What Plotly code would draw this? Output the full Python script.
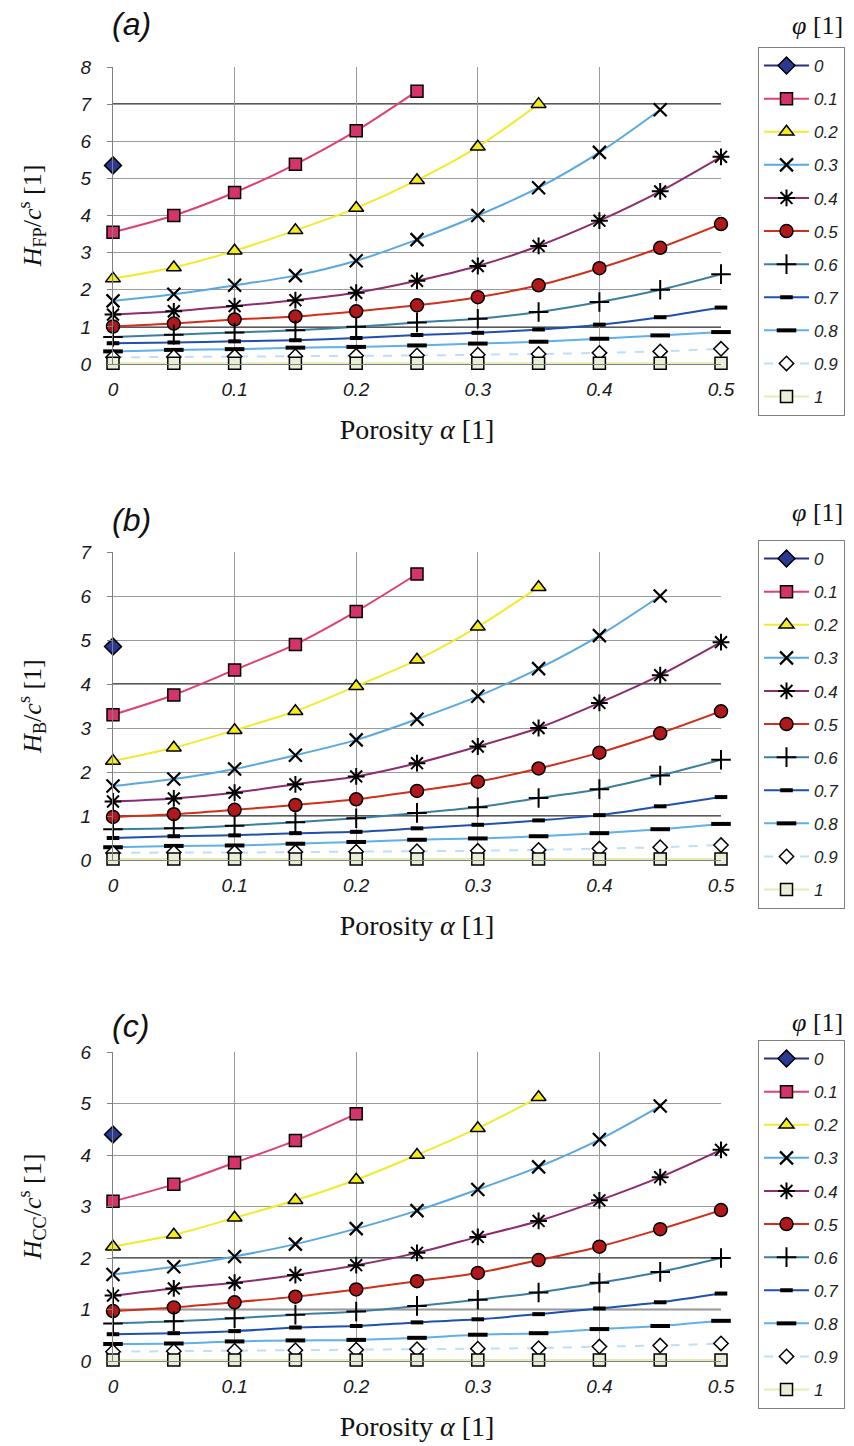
import plotly.graph_objects as go

# Porosity values on the horizontal axis
alpha = [0, 0.05, 0.1, 0.15, 0.2, 0.25, 0.3, 0.35, 0.4, 0.45, 0.5]
alpha_ticks = [0, 0.1, 0.2, 0.3, 0.4, 0.5]
alpha_ticktext = ["0", "0.1", "0.2", "0.3", "0.4", "0.5"]

# Volume fraction of the second phase (one curve each)
phi = ["0", "0.1", "0.2", "0.3", "0.4", "0.5", "0.6", "0.7", "0.8", "0.9", "1"]

# H_FP / c^s  (panel a); shorter rows stop where the curve ends
H_FP = [
    [5.35],
    [3.55, 4.0, 4.62, 5.38, 6.28, 7.35],
    [2.3, 2.6, 3.05, 3.6, 4.2, 4.95, 5.85, 7.0],
    [1.7, 1.88, 2.12, 2.38, 2.78, 3.35, 4.0, 4.75, 5.7, 6.85],
    [1.33, 1.42, 1.56, 1.72, 1.92, 2.24, 2.64, 3.18, 3.86, 4.65, 5.58],
    [1.01, 1.09, 1.2, 1.28, 1.42, 1.58, 1.8, 2.12, 2.58, 3.13, 3.77],
    [0.73, 0.79, 0.85, 0.91, 1.0, 1.12, 1.22, 1.4, 1.67, 2.0, 2.42],
    [0.56, 0.58, 0.61, 0.64, 0.7, 0.78, 0.84, 0.93, 1.06, 1.26, 1.52],
    [0.34, 0.38, 0.4, 0.44, 0.46, 0.5, 0.55, 0.6, 0.68, 0.77, 0.86],
    [0.18, 0.19, 0.2, 0.21, 0.22, 0.23, 0.25, 0.27, 0.3, 0.34, 0.41],
    [0.02, 0.02, 0.02, 0.02, 0.02, 0.02, 0.02, 0.02, 0.02, 0.02, 0.02],
]

# H_B / c^s  (panel b)
H_B = [
    [4.85],
    [3.3, 3.75, 4.32, 4.9, 5.65, 6.5],
    [2.25, 2.55, 2.95, 3.38, 3.95, 4.55, 5.3, 6.2],
    [1.68, 1.84, 2.07, 2.38, 2.73, 3.2, 3.72, 4.35, 5.1, 6.0],
    [1.33, 1.4, 1.53, 1.72, 1.9, 2.2, 2.58, 3.0, 3.57, 4.2, 4.95],
    [0.98, 1.04, 1.14, 1.25, 1.38, 1.57, 1.78, 2.08, 2.44, 2.88, 3.38],
    [0.7, 0.72, 0.78, 0.86, 0.95, 1.07, 1.2, 1.41, 1.61, 1.92, 2.28],
    [0.5, 0.54, 0.56, 0.61, 0.64, 0.72, 0.8, 0.9, 1.02, 1.22, 1.43],
    [0.29, 0.32, 0.33, 0.37, 0.41, 0.46, 0.49, 0.54, 0.61, 0.7, 0.82],
    [0.16, 0.17, 0.17, 0.18, 0.19, 0.2, 0.21, 0.23, 0.26, 0.29, 0.34],
    [0.02, 0.02, 0.02, 0.02, 0.02, 0.02, 0.02, 0.02, 0.02, 0.02, 0.02],
]

# H_CC / c^s  (panel c)
H_CC = [
    [4.4],
    [3.1, 3.43, 3.85, 4.28, 4.8],
    [2.22, 2.45, 2.78, 3.12, 3.52, 4.0, 4.52, 5.12],
    [1.68, 1.83, 2.03, 2.27, 2.57, 2.92, 3.33, 3.77, 4.3, 4.95],
    [1.27, 1.41, 1.52, 1.67, 1.86, 2.1, 2.41, 2.72, 3.12, 3.57, 4.1],
    [0.97, 1.04, 1.14, 1.25, 1.39, 1.55, 1.71, 1.96, 2.22, 2.56, 2.93],
    [0.73, 0.77, 0.83, 0.9, 0.96, 1.07, 1.19, 1.33, 1.52, 1.73, 2.0],
    [0.52, 0.54, 0.58, 0.65, 0.68, 0.75, 0.81, 0.91, 1.02, 1.14, 1.31],
    [0.33, 0.34, 0.38, 0.4, 0.41, 0.45, 0.51, 0.54, 0.62, 0.68, 0.78],
    [0.18, 0.19, 0.2, 0.21, 0.22, 0.23, 0.24, 0.25, 0.28, 0.3, 0.34],
    [0.02, 0.02, 0.02, 0.02, 0.02, 0.02, 0.02, 0.02, 0.02, 0.02, 0.02],
]

# Gridlines printed darker in each panel
dark_grid_a = [1, 7]
dark_grid_b = [1, 4]
dark_grid_c = [1, 2]

W, H = 854, 1446

# Per-curve styling: line colour, marker symbol, marker fill, size, outline width
STYLES = [
    dict(line="#27307f", symbol="diamond", fill="#2b3990", size=13, lw=1.5, dash="solid"),
    dict(line="#e0406e", symbol="square", fill="#d6336c", size=12, lw=1.5, dash="solid"),
    dict(line="#f2ea2e", symbol="triangle-up", fill="#f5ec1c", size=13, lw=1.5, dash="solid"),
    dict(line="#5aa8e0", symbol="x-thin", fill="#000000", size=13, lw=2.2, dash="solid"),
    dict(line="#8b2d6e", symbol="asterisk", fill="#000000", size=14, lw=2.0, dash="solid"),
    dict(line="#d0301a", symbol="circle", fill="#b0191b", size=13, lw=1.5, dash="solid"),
    dict(line="#3a7fa0", symbol="cross-thin", fill="#000000", size=14, lw=2.0, dash="solid"),
    dict(line="#1f4fb0", symbol="line-ew", fill="#000000", size=9, lw=4.0, dash="solid"),
    dict(line="#5fb0e8", symbol="line-ew", fill="#000000", size=14, lw=4.0, dash="solid"),
    dict(line="#bfe0f2", symbol="diamond", fill="#ffffff", size=11, lw=1.5, dash="dash"),
    dict(line="#e6edb4", symbol="square", fill="#e8efd6", size=12, lw=1.5, dash="solid"),
]

OPEN_SYMBOLS = {"x-thin", "asterisk", "cross-thin", "line-ew"}

# Panel geometry in pixels: (top, bottom) of the plotting area
panels = [
    dict(data=H_FP, ymax=8, top=67, bottom=364, label="(a)", sub="FP", legtop=47,
         labely=24, phiy=25, dark=dark_grid_a),
    dict(data=H_B, ymax=7, top=552, bottom=860, label="(b)", sub="B", legtop=540,
         labely=520, phiy=512, dark=dark_grid_b),
    dict(data=H_CC, ymax=6, top=1052, bottom=1361, label="(c)", sub="CC", legtop=1040,
         labely=1026, phiy=1022, dark=dark_grid_c),
]

X_LEFT, X_RIGHT = 113, 721

fig = go.Figure()
layout = dict(
    width=W, height=H,
    margin=dict(l=0, r=0, t=0, b=0, autoexpand=False),
    paper_bgcolor="white", plot_bgcolor="white",
    showlegend=True,
    annotations=[],
    shapes=[],
)

tick_font = dict(family="Liberation Sans", size=19, color="#1a1a1a", style="italic")
serif_x = dict(family="Liberation Serif", size=28, color="#111111")
serif_y = dict(family="Liberation Serif", size=26, color="#111111")

for i, p in enumerate(panels, start=1):
    xa = "x" if i == 1 else f"x{i}"
    ya = "y" if i == 1 else f"y{i}"
    leg = "legend" if i == 1 else f"legend{i}"

    for level in p["dark"]:
        layout["shapes"].append(dict(
            type="line", xref=f"{xa} domain", yref=ya, x0=0, x1=1, y0=level, y1=level,
            line=dict(color="#222222", width=1.6), layer="below",
        ))

    for k, (name, row) in enumerate(zip(phi, p["data"])):
        st = STYLES[k]
        if st["symbol"] in OPEN_SYMBOLS:
            marker = dict(symbol=st["symbol"], size=st["size"], color="#000000",
                          line=dict(color="#000000", width=st["lw"]))
        else:
            marker = dict(symbol=st["symbol"], size=st["size"], color=st["fill"],
                          line=dict(color="#000000", width=st["lw"]))
        fig.add_trace(go.Scatter(
            x=alpha[:len(row)], y=row,
            mode="lines+markers",
            name=name,
            line=dict(color=st["line"], width=2, shape="spline", smoothing=0.8, dash=st["dash"]),
            marker=marker,
            cliponaxis=False,
            xaxis=xa, yaxis=ya,
            legend=leg,
            legendgroup=f"{i}-{name}",
        ))

    ydom = [1 - p["bottom"] / H, 1 - p["top"] / H]
    layout["xaxis" if i == 1 else f"xaxis{i}"] = dict(
        domain=[X_LEFT / W, X_RIGHT / W], anchor=ya,
        range=[0, 0.5], tickvals=alpha_ticks, ticktext=alpha_ticktext,
        showgrid=True, gridcolor="#9a9a9a", gridwidth=1,
        showline=True, linecolor="#808080", linewidth=1,
        zeroline=False, ticks="", tickfont=tick_font, ticklabelstandoff=8,
        title=dict(text="Porosity <i>α</i> [1]", font=serif_x, standoff=20),
    )
    layout["yaxis" if i == 1 else f"yaxis{i}"] = dict(
        domain=ydom, anchor=xa,
        range=[0, p["ymax"]], dtick=1, tick0=0,
        showgrid=True, gridcolor="#9a9a9a", gridwidth=1,
        showline=True, linecolor="#808080", linewidth=1,
        zeroline=False, ticks="outside", ticklen=5, tickcolor="#808080",
        tickfont=tick_font, ticklabelstandoff=12,
        title=dict(text=f"<i>H</i><sub>{p['sub']}</sub>/<i>c</i><sup>s</sup> [1]",
                   font=serif_y, standoff=30),
    )
    layout[leg] = dict(
        xref="paper", yref="paper",
        x=758 / W, y=1 - p["legtop"] / H, xanchor="left", yanchor="top",
        bordercolor="#808080", borderwidth=1, bgcolor="white",
        font=dict(family="Liberation Sans", size=17, color="#222222", style="italic"),
        itemwidth=45, tracegroupgap=8, itemclick=False, itemdoubleclick=False,
    )
    layout["annotations"].append(dict(
        text=p["label"], xref="paper", yref="paper",
        x=110 / W, y=1 - p["labely"] / H, xanchor="left", yanchor="middle",
        showarrow=False,
        font=dict(family="Liberation Sans", size=32, color="#111111", style="italic"),
    ))
    layout["annotations"].append(dict(
        text="<i>φ</i> [1]", xref="paper", yref="paper",
        x=817 / W, y=1 - p["phiy"] / H, xanchor="center", yanchor="middle",
        showarrow=False, font=dict(family="Liberation Serif", size=26, color="#111111"),
    ))

fig.update_layout(**layout)
fig.write_html("out.html")
